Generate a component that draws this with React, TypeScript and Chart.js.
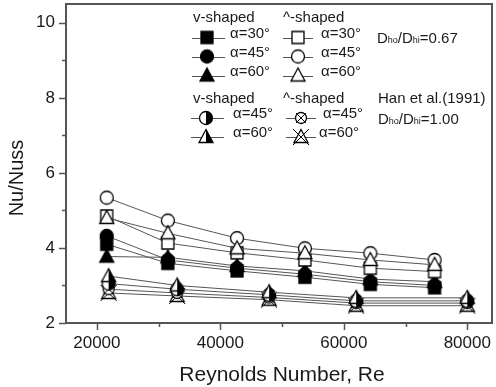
import React, { useEffect, useRef } from 'react';
import { Chart, registerables } from 'chart.js';
Chart.register(...registerables);

// ---------- data ----------
const reynoldsMain = [21600, 31500, 42700, 53700, 64300, 74700];
const reynoldsHan = [21900, 33000, 47900, 62000, 80000];

const vShaped30 = [4.1, 3.59, 3.39, 3.22, 3.03, 2.94];
const vShaped45 = [4.32, 3.68, 3.46, 3.3, 3.1, 3.0];
const vShaped60 = [3.77, 3.75, 3.52, 3.39, 3.17, 3.1];
const caretShaped30 = [4.85, 4.13, 3.87, 3.68, 3.46, 3.37];
const caretShaped45 = [5.34, 4.73, 4.26, 3.99, 3.86, 3.68];
const caretShaped60 = [4.8, 4.39, 3.99, 3.86, 3.68, 3.55];

const hanV45 = [3.05, 2.9, 2.75, 2.59, 2.59];
const hanV60 = [3.25, 3.0, 2.82, 2.67, 2.67];
const hanCaret45 = [2.9, 2.8, 2.68, 2.53, 2.53];
const hanCaret60 = [2.8, 2.72, 2.62, 2.46, 2.46];

const xTicks = [20000, 40000, 60000, 80000];
const xMinorTicks = [30000, 50000, 70000];
const yTicks = [2, 4, 6, 8, 10];
const yMinorTicks = [3, 5, 7, 9];

const xTitle = 'Reynolds Number, Re';
const yTitle = 'Nu/Nuss';
const headerV = 'v-shaped';
const headerCaret = '^-shaped';
const label30 = 'α=30°';
const label45 = 'α=45°';
const label60 = 'α=60°';
const hanLabel = 'Han et al.(1991)';
const ratioA = '0.67';
const ratioB = '1.00';

const FONT = '"Liberation Sans", Arial, Helvetica, sans-serif';
const TEXT = '#1a1a1a';

type Kind = 'fsq' | 'fci' | 'ftr' | 'osq' | 'oci' | 'otr' | 'hci' | 'htr' | 'xci' | 'xtr';

function makeMarker(kind: Kind): HTMLCanvasElement {
  const S = 22;
  const c = document.createElement('canvas');
  c.width = S;
  c.height = S;
  const g = c.getContext('2d')!;
  g.translate(S / 2, S / 2);
  g.lineWidth = 1.3;
  g.strokeStyle = '#000';
  const tri = (a = 7.5, h = 5.5, w = 7) => {
    g.beginPath();
    g.moveTo(0, -a);
    g.lineTo(w, h);
    g.lineTo(-w, h);
    g.closePath();
  };
  const filled = kind[0] === 'f';
  if (kind === 'fsq' || kind === 'osq') {
    g.beginPath();
    g.rect(-6, -6, 12, 12);
    g.fillStyle = filled ? '#000' : '#fff';
    g.fill();
    g.stroke();
  } else if (kind === 'fci' || kind === 'oci') {
    g.beginPath();
    g.arc(0, 0, 6.5, 0, Math.PI * 2);
    g.fillStyle = filled ? '#000' : '#fff';
    g.fill();
    g.stroke();
  } else if (kind === 'ftr' || kind === 'otr') {
    tri();
    g.fillStyle = filled ? '#000' : '#fff';
    g.fill();
    g.stroke();
  } else if (kind === 'hci') {
    g.beginPath();
    g.arc(0, 0, 6.5, 0, Math.PI * 2);
    g.fillStyle = '#fff';
    g.fill();
    g.beginPath();
    g.arc(0, 0, 6.5, -Math.PI / 2, Math.PI / 2);
    g.closePath();
    g.fillStyle = '#000';
    g.fill();
    g.beginPath();
    g.arc(0, 0, 6.5, 0, Math.PI * 2);
    g.stroke();
  } else if (kind === 'htr') {
    tri();
    g.fillStyle = '#fff';
    g.fill();
    g.beginPath();
    g.moveTo(0, -7.5);
    g.lineTo(7, 5.5);
    g.lineTo(0, 5.5);
    g.closePath();
    g.fillStyle = '#000';
    g.fill();
    tri();
    g.stroke();
  } else if (kind === 'xci') {
    g.beginPath();
    g.arc(0, 0, 5.5, 0, Math.PI * 2);
    g.fillStyle = '#fff';
    g.fill();
    g.stroke();
    g.lineWidth = 1;
    g.beginPath();
    g.moveTo(-5, -5);
    g.lineTo(5, 5);
    g.moveTo(5, -5);
    g.lineTo(-5, 5);
    g.stroke();
  } else if (kind === 'xtr') {
    tri(7.5, 5.5, 7);
    g.fillStyle = '#fff';
    g.fill();
    g.stroke();
    g.lineWidth = 1;
    g.beginPath();
    g.moveTo(-8, -8);
    g.lineTo(8, 8);
    g.moveTo(8, -8);
    g.lineTo(-8, 8);
    g.stroke();
  }
  return c;
}

const LINE = '#555';

export default function App() {
  const ref = useRef<HTMLCanvasElement | null>(null);

  useEffect(() => {
    document.body.style.margin = '0';
    const canvas = ref.current!;
    const m: Record<Kind, HTMLCanvasElement> = {
      fsq: makeMarker('fsq'),
      fci: makeMarker('fci'),
      ftr: makeMarker('ftr'),
      osq: makeMarker('osq'),
      oci: makeMarker('oci'),
      otr: makeMarker('otr'),
      hci: makeMarker('hci'),
      htr: makeMarker('htr'),
      xci: makeMarker('xci'),
      xtr: makeMarker('xtr'),
    };

    const mk = (label: string, xs: number[], ys: number[], kind: Kind) => ({
      label,
      data: xs.map((x, i) => ({ x, y: ys[i] })),
      pointStyle: m[kind],
      pointRadius: 7,
      borderColor: LINE,
      backgroundColor: LINE,
      borderWidth: 1,
      showLine: true,
    });

    const datasets = [
      mk('^ 60', reynoldsMain, caretShaped60, 'otr'),
      mk('^ 45', reynoldsMain, caretShaped45, 'oci'),
      mk('^ 30', reynoldsMain, caretShaped30, 'osq'),
      mk('v 45', reynoldsMain, vShaped45, 'fci'),
      mk('v 60', reynoldsMain, vShaped60, 'ftr'),
      mk('v 30', reynoldsMain, vShaped30, 'fsq'),
      mk('Han v 60', reynoldsHan, hanV60, 'htr'),
      mk('Han v 45', reynoldsHan, hanV45, 'hci'),
      mk('Han ^ 45', reynoldsHan, hanCaret45, 'xci'),
      mk('Han ^ 60', reynoldsHan, hanCaret60, 'xtr'),
    ];

    const drawRatio = (ctx: CanvasRenderingContext2D, x: number, y: number, val: string) => {
      const big = `15px ${FONT}`;
      const small = `9px ${FONT}`;
      ctx.textBaseline = 'alphabetic';
      ctx.textAlign = 'left';
      const base = y + 5.5;
      const parts: [string, string][] = [
        ['D', big],
        ['ho', small],
        ['/D', big],
        ['hi', small],
        ['=' + val, big],
      ];
      let cx = x;
      for (const [t, f] of parts) {
        ctx.font = f;
        ctx.fillText(t, cx, base);
        cx += ctx.measureText(t).width;
      }
    };

    const overlay = {
      id: 'overlay',
      afterDraw(chart: any) {
        const ctx: CanvasRenderingContext2D = chart.ctx;
        const { left, right, top, bottom } = chart.chartArea;
        const xs = chart.scales.x;
        const ys = chart.scales.y;
        ctx.save();
        // frame
        ctx.strokeStyle = '#555';
        ctx.lineWidth = 2;
        ctx.strokeRect(left, top, right - left, bottom - top);
        // ticks
        ctx.lineWidth = 1.5;
        ctx.beginPath();
        for (const v of yTicks) {
          const p = Math.round(ys.getPixelForValue(v)) + 0.5;
          ctx.moveTo(left, p);
          ctx.lineTo(left - 7, p);
        }
        for (const v of yMinorTicks) {
          const p = Math.round(ys.getPixelForValue(v)) + 0.5;
          ctx.moveTo(left, p);
          ctx.lineTo(left - 4, p);
        }
        for (const v of xTicks) {
          const p = Math.round(xs.getPixelForValue(v)) + 0.5;
          ctx.moveTo(p, bottom);
          ctx.lineTo(p, bottom + 7);
        }
        for (const v of xMinorTicks) {
          const p = Math.round(xs.getPixelForValue(v)) + 0.5;
          ctx.moveTo(p, bottom);
          ctx.lineTo(p, bottom + 4);
        }
        ctx.stroke();

        // axis titles
        ctx.fillStyle = TEXT;
        ctx.textAlign = 'center';
        ctx.textBaseline = 'middle';
        ctx.font = `21px ${FONT}`;
        ctx.fillText(xTitle, 282, 375);
        ctx.save();
        ctx.translate(17, 178);
        ctx.rotate(-Math.PI / 2);
        ctx.font = `20px ${FONT}`;
        ctx.fillText(yTitle, 0, 0);
        ctx.restore();

        // legend
        ctx.font = `15px ${FONT}`;
        ctx.textAlign = 'left';
        ctx.textBaseline = 'middle';
        ctx.fillText(headerV, 193, 18);
        ctx.fillText(headerCaret, 283, 18);
        ctx.fillText(headerV, 193, 99);
        ctx.fillText(headerCaret, 283, 99);
        ctx.fillText(hanLabel, 378, 99);
        drawRatio(ctx, 377, 37.5, ratioA);
        drawRatio(ctx, 378, 118, ratioB);

        const rows: [number, Kind, string, Kind, string, number, number, number, number][] = [
          [37.5, 'fsq', label30, 'osq', label30, 207, 230, 298, 321],
          [56.5, 'fci', label45, 'oci', label45, 207, 230, 298, 321],
          [75.5, 'ftr', label60, 'otr', label60, 207, 230, 298, 321],
          [118, 'hci', label45, 'xci', label45, 206, 233, 301, 323],
          [137, 'htr', label60, 'xtr', label60, 206, 233, 301, 319],
        ];
        for (const [y, k1, t1, k2, t2, m1, tx1, m2, tx2] of rows) {
          ctx.strokeStyle = LINE;
          ctx.lineWidth = 1;
          ctx.beginPath();
          ctx.moveTo(m1 - 15, Math.round(y) + 0.5);
          ctx.lineTo(m1 + 18, Math.round(y) + 0.5);
          ctx.moveTo(m2 - 15, Math.round(y) + 0.5);
          ctx.lineTo(m2 + 15, Math.round(y) + 0.5);
          ctx.stroke();
          const i1 = m[k1];
          const i2 = m[k2];
          ctx.drawImage(i1, m1 - i1.width / 2, y - i1.height / 2);
          ctx.drawImage(i2, m2 - i2.width / 2, y - i2.height / 2);
          ctx.fillStyle = TEXT;
          ctx.font = `15px ${FONT}`;
          ctx.fillText(t1, tx1, y);
          ctx.fillText(t2, tx2, y);
        }
        ctx.restore();
      },
    };

    const chart = new Chart(canvas, {
      type: 'scatter',
      data: { datasets: datasets as any },
      options: {
        animation: false,
        responsive: false,
        maintainAspectRatio: false,
        layout: { autoPadding: false, padding: { top: 4, right: 4, left: 0, bottom: 0 } },
        plugins: { legend: { display: false }, tooltip: { enabled: false } },
        elements: { line: { tension: 0 } },
        scales: {
          x: {
            type: 'linear',
            min: 15000,
            max: 84000,
            grid: { display: false, drawTicks: false, tickLength: 0 },
            border: { display: false },
            afterBuildTicks: (s: any) => {
              s.ticks = xTicks.map((v) => ({ value: v }));
            },
            afterFit: (s: any) => {
              s.height = 64;
              s.paddingLeft = 0;
              s.paddingRight = 0;
              s.paddingTop = 0;
              s.paddingBottom = 0;
            },
            ticks: {
              padding: 10,
              maxRotation: 0,
              autoSkip: false,
              color: TEXT,
              font: { family: FONT, size: 17 },
              callback: (v: any) => String(v),
            },
          },
          y: {
            type: 'linear',
            min: 2,
            max: 10.5,
            grid: { display: false, drawTicks: false, tickLength: 0 },
            border: { display: false },
            afterBuildTicks: (s: any) => {
              s.ticks = yTicks.map((v) => ({ value: v }));
            },
            afterFit: (s: any) => {
              s.width = 66;
              s.paddingLeft = 0;
              s.paddingRight = 0;
              s.paddingTop = 0;
              s.paddingBottom = 0;
            },
            ticks: {
              padding: 11,
              autoSkip: false,
              color: TEXT,
              font: { family: FONT, size: 17 },
              callback: (v: any) => String(v),
            },
          },
        },
      },
      plugins: [overlay],
    });
    return () => chart.destroy();
  }, []);

  return <canvas ref={ref} width={496} height={387} style={{ display: 'block' }} />;
}
